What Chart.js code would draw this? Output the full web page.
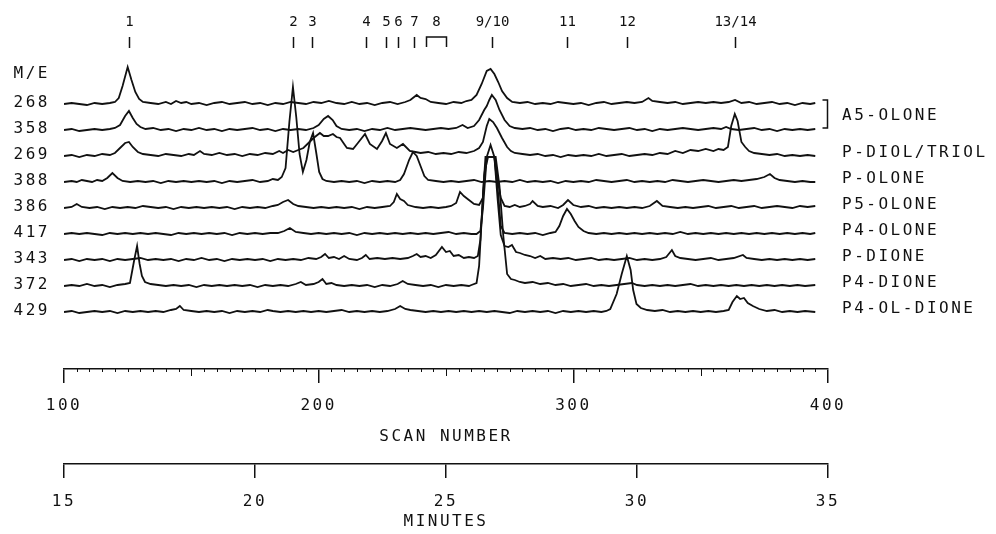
<!DOCTYPE html>
<html>
<head>
<meta charset="utf-8">
<script src="https://cdn.jsdelivr.net/npm/chart.js@4"></script>
<style>
    body { margin: 0; background: #fff; }
    canvas { display: block; }
</style>
</head>
<body>
<canvas id="chartScan" width="996" height="534"></canvas>
<script>
const mzLabels = ['268', '358', '269', '388', '386', '417', '343', '372', '429']
const compoundLabels = ['P-DIOL/TRIOL', 'P-OLONE', 'P5-OLONE', 'P4-OLONE', 'P-DIONE', 'P4-DIONE', 'P4-OL-DIONE']
const pairLabel = 'A5-OLONE'

const peakNumbers = ['1', '2', '3', '4', '5', '6', '7', '8', '9/10', '11', '12', '13/14']
const peakScans = [125.5, 190, 197.5, 218.6, 226.4, 231.3, 237.5, 246, 268, 297.6, 321, 363.4]
const peak8Range = [242, 250]

const scanTicks = [100, 200, 300, 400]
const minuteTicks = [15, 20, 25, 30, 35]

// [scan, height above the trace baseline]
const trace268 = [[100,0],[103,1],[106,0],[109,-1],[112,1],[115,0],[118,1],[120,2],[121.5,6],[123,18],[125,37],[126.5,24],[128,12],[129.5,5],[131,2],[134,1],[137,0],[140,2],[142,0],[144,3],[146,1],[148,2],[150,0],[153,1],[156,-1],[159,1],[162,2],[165,0],[168,1],[171,2],[174,0],[177,1],[180,-1],[183,1],[186,0],[189,2],[192,1],[195,0],[198,2],[201,1],[204,3],[207,1],[210,0],[213,2],[216,0],[219,1],[222,-1],[225,1],[228,2],[231,0],[234,2],[236,4],[238.5,9],[240,6],[242,5],[244,2],[247,1],[250,0],[253,2],[256,1],[258,3],[260,4],[262,9],[264,20],[266,33],[267.5,35],[269,30],[270.5,22],[272,13],[274,6],[276,2],[279,1],[282,2],[285,0],[288,1],[291,0],[294,2],[297,1],[300,0],[303,1],[306,-1],[309,1],[312,2],[315,0],[318,1],[321,2],[324,1],[327,2],[329.5,6],[331,3],[334,2],[337,1],[340,2],[343,0],[346,1],[349,2],[352,1],[355,2],[358,1],[361,2],[363.5,4],[366,1],[369,2],[372,0],[375,1],[378,2],[381,0],[384,1],[387,-1],[390,1],[393,0],[395,1]]

const trace358 = [[100,0],[103,1],[106,-1],[109,0],[112,1],[115,0],[118,1],[120,2],[122,5],[124,14],[125.5,19],[127,12],[128.5,6],[130,3],[132,1],[135,2],[138,0],[141,1],[144,-1],[147,1],[150,0],[153,2],[156,0],[159,1],[162,-1],[165,1],[168,0],[171,1],[174,2],[177,0],[180,1],[183,-1],[186,1],[189,0],[192,1],[195,0],[198,2],[200,5],[202,11],[203.7,14],[205.5,10],[207,4],[209,1],[212,0],[215,1],[218,-1],[221,1],[224,0],[227,2],[230,0],[233,1],[236,2],[239,1],[242,0],[245,1],[248,2],[251,1],[254,2],[256.5,5],[258.5,2],[261,4],[263,10],[265,20],[266,24],[267,30],[268,35],[269.5,30],[271,20],[273,10],[275,4],[277,2],[280,1],[283,2],[286,0],[289,1],[292,-1],[295,1],[298,2],[301,0],[304,1],[307,0],[310,2],[313,1],[316,0],[319,1],[322,2],[325,0],[328,1],[331,-1],[334,1],[337,0],[340,1],[343,2],[346,1],[349,0],[352,1],[355,2],[358,1],[360,3],[362,1],[365,0],[368,1],[371,2],[374,0],[377,1],[380,-1],[383,1],[386,0],[389,1],[392,0],[395,1]]

const trace269 = [[100,0],[103,1],[106,-1],[109,1],[112,0],[115,2],[118,1],[120,3],[122,8],[124,13],[125.5,14],[127,9],[129,4],[131,2],[134,1],[137,0],[140,2],[143,1],[146,0],[149,2],[151,1],[153.4,5],[155,2],[158,1],[161,3],[164,1],[167,2],[170,0],[173,2],[176,1],[179,3],[182,2],[184.5,5],[186,3],[188,6],[190,4],[192,6],[194,8],[196,13],[198,18],[200.5,23],[202,20],[203.7,20],[205.6,22],[207,19],[208.4,18],[210,12],[211.1,8],[213.5,7],[215.4,13],[218.2,22],[220.1,12],[222.9,7],[224.9,15],[226.4,23],[228,12],[230.7,8],[233.1,12],[235.8,5],[238,4],[240,3],[243,4],[246,2],[249,3],[252,2],[255,4],[258,3],[261,5],[263,8],[264.5,14],[266,30],[267,37],[268.5,34],[270,28],[272,18],[274,9],[275.5,5],[277,3],[280,2],[283,1],[286,2],[289,0],[292,1],[295,-1],[298,1],[301,0],[304,1],[307,0],[310,2],[313,0],[316,1],[319,2],[322,0],[325,1],[328,2],[331,1],[334,3],[337,2],[340,5],[343,3],[346,6],[349,5],[352,7],[355,5],[357,7],[359,6],[360.7,9],[362,30],[363.4,42],[364.5,35],[366,14],[367.5,9],[369,5],[371,3],[374,2],[377,1],[380,2],[383,0],[386,1],[389,0],[392,1],[395,0]]

const trace388 = [[100,0],[103,1],[105,0],[107,2],[109,1],[111,0],[113,2],[115,1],[117,4],[119,9],[121,4],[123,1],[126,0],[129,1],[132,0],[135,1],[138,-1],[141,1],[144,0],[147,1],[150,0],[153,1],[156,0],[159,1],[162,-1],[165,1],[168,0],[171,1],[174,2],[177,0],[180,1],[182,3],[184,2],[185.5,5],[187,14],[188.5,60],[189.9,95],[191.2,65],[192.5,28],[193.8,10],[195.2,22],[196.5,40],[197.8,49],[199,30],[200.2,10],[201.5,3],[203,1],[206,0],[209,1],[212,0],[215,1],[218,-1],[221,1],[224,0],[227,1],[230,0],[232,2],[233.5,8],[235.5,22],[237,30],[238.5,26],[240,16],[241.5,6],[243,2],[246,1],[249,0],[252,1],[255,0],[258,1],[261,2],[264,0],[267,1],[270,0],[273,1],[276,0],[279,2],[282,0],[285,1],[288,0],[291,1],[294,-1],[297,1],[300,0],[303,1],[306,0],[309,2],[312,1],[315,0],[318,1],[321,2],[324,0],[327,1],[330,0],[333,1],[336,0],[339,2],[342,1],[345,0],[348,1],[351,2],[354,1],[357,0],[360,1],[363,2],[366,1],[369,2],[372,3],[375,5],[377.2,8],[379,4],[381,2],[384,1],[387,0],[390,1],[393,0],[395,0]]

const trace386 = [[100,0],[103,1],[105,4],[107,1],[110,0],[113,1],[116,-1],[119,1],[122,0],[125,1],[128,0],[131,2],[134,1],[137,0],[140,1],[143,-1],[146,1],[149,0],[152,1],[155,0],[158,1],[161,0],[164,1],[167,-1],[170,1],[173,0],[176,1],[179,0],[182,2],[184,3],[186,6],[188,8],[190,4],[192,2],[195,1],[198,0],[201,1],[204,0],[207,1],[210,0],[213,1],[216,-1],[219,1],[222,0],[225,1],[228,2],[229.5,6],[230.7,14],[232,9],[233.5,7],[235,3],[238,1],[241,0],[244,1],[247,0],[250,1],[252,2],[254,5],[255.5,16],[257,12],[259,8],[261,4],[263,3],[264.5,10],[265.5,40],[266.5,51],[269,51],[270.5,25],[271.5,10],[273,2],[275,1],[277,3],[279,1],[281,2],[283,4],[284,7],[286,2],[288,1],[291,2],[294,0],[296,3],[297.9,8],[300,3],[303,1],[306,2],[309,0],[312,1],[315,0],[318,1],[321,0],[324,1],[327,0],[330,2],[332.8,7],[335,2],[338,1],[341,0],[344,1],[347,0],[350,1],[353,2],[356,0],[359,1],[362,2],[365,0],[368,1],[371,2],[374,0],[377,1],[380,2],[383,1],[386,0],[389,2],[392,1],[395,2]]

const trace417 = [[100,0],[103,1],[106,0],[109,1],[112,0],[115,-1],[118,1],[121,0],[124,1],[127,0],[130,1],[133,0],[136,1],[139,0],[142,-1],[145,1],[148,0],[151,1],[154,0],[157,1],[160,0],[163,1],[166,-1],[169,1],[172,0],[175,1],[178,0],[181,1],[184,1],[186.5,3],[188.7,6],[191,2],[194,1],[197,0],[200,1],[203,0],[206,1],[209,0],[212,1],[215,-1],[218,1],[221,0],[224,1],[227,0],[230,1],[233,0],[236,1],[239,0],[242,1],[245,0],[248,1],[251,2],[254,0],[257,1],[260,0],[262,0],[263.5,3],[264.5,25],[266,77],[269,77],[270.5,40],[271.5,8],[273,1],[276,0],[279,1],[282,0],[285,1],[288,-1],[291,1],[293,2],[294.5,8],[296,18],[297.5,25],[299,20],[300.5,13],[302,7],[304,3],[306,1],[309,0],[312,1],[315,0],[318,1],[321,0],[324,1],[327,0],[330,1],[333,0],[336,1],[339,0],[342,2],[345,0],[348,1],[351,0],[354,1],[357,0],[360,1],[363,0],[366,1],[369,0],[372,1],[375,0],[378,1],[381,0],[384,1],[387,0],[390,1],[393,0],[395,1]]

const trace343 = [[100,0],[103,1],[106,-1],[109,1],[112,0],[115,1],[118,-1],[121,1],[124,0],[127,1],[130,2],[133,0],[136,1],[139,0],[142,1],[145,-1],[148,1],[151,0],[154,2],[157,0],[160,1],[163,-1],[166,1],[169,0],[172,1],[175,0],[178,1],[181,-1],[184,1],[187,0],[190,1],[193,0],[196,2],[199,1],[201,3],[202.5,6],[204,2],[206,3],[208,1],[210,4],[212,1],[215,0],[217,2],[218.5,5],[220,1],[223,2],[226,1],[229,2],[232,1],[235,2],[237,4],[238.5,6],[240,3],[242,4],[244,2],[246,5],[248.4,13],[250,8],[251.5,9],[253,4],[255,5],[257,2],[259,3],[261,2],[262.5,4],[263.5,20],[265,85],[266,103],[267.5,115],[269,103],[270.3,60],[271.5,25],[273,14],[274.5,13],[275.9,15],[277.5,8],[279,7],[281,5],[283,4],[285,2],[287,4],[289,1],[292,2],[295,1],[298,2],[301,0],[304,1],[307,2],[310,0],[313,1],[316,0],[319,1],[322,2],[325,0],[328,1],[331,0],[334,1],[336.5,3],[338.7,10],[340,4],[342,2],[345,1],[348,0],[351,1],[354,2],[357,0],[360,1],[363,2],[366.6,5],[368,2],[371,1],[374,0],[377,1],[380,0],[383,1],[386,0],[389,1],[392,0],[395,1]]

const trace372 = [[100,0],[103,1],[106,0],[109,2],[112,0],[115,1],[118,-1],[121,1],[124,2],[125.9,3],[127.5,25],[128.7,40],[129.7,22],[130.6,10],[131.8,4],[134,2],[137,1],[140,0],[143,1],[146,0],[149,1],[152,-1],[155,1],[158,0],[161,1],[164,0],[167,1],[170,0],[173,1],[176,-1],[179,1],[182,0],[185,1],[188,0],[191,2],[193,4],[195,1],[198,2],[200,4],[201.5,7],[203,2],[205,3],[207,1],[210,0],[213,1],[216,0],[219,1],[222,-1],[225,1],[228,0],[231,2],[233,5],[235,2],[238,1],[241,0],[244,1],[247,-1],[250,1],[253,0],[256,1],[259,0],[260,1],[262,3],[263,20],[264.5,90],[265.5,129],[269.5,129],[271,100],[272.5,50],[274,12],[275.5,7],[277,6],[279,4],[281,3],[284,4],[287,2],[290,3],[293,1],[296,2],[299,0],[302,1],[305,2],[308,0],[311,1],[314,0],[317,1],[320,2],[323,3],[325,1],[328,0],[331,1],[334,0],[337,1],[340,0],[343,1],[346,2],[349,0],[352,1],[355,0],[358,1],[361,0],[364,1],[367,0],[370,1],[373,0],[376,1],[379,0],[382,1],[385,0],[388,1],[391,0],[395,1]]

const trace429 = [[100,0],[103,1],[106,-1],[109,0],[112,1],[115,0],[118,1],[121,-1],[124,1],[127,0],[130,1],[133,0],[136,1],[139,0],[142,2],[144,3],[145.5,6],[147,2],[150,1],[153,0],[156,1],[159,0],[162,1],[165,-1],[168,1],[171,0],[174,1],[177,0],[180,2],[182,1],[185,0],[188,1],[191,0],[194,1],[197,0],[200,1],[203,0],[206,1],[209,2],[212,0],[215,1],[218,0],[221,1],[224,0],[227,1],[230,3],[232,6],[234,3],[236,2],[239,1],[242,0],[245,1],[248,0],[251,1],[254,0],[257,1],[260,0],[263,1],[266,0],[269,1],[272,0],[275,-1],[278,1],[281,0],[284,1],[287,0],[290,1],[293,-1],[296,1],[299,0],[302,1],[305,0],[308,1],[311,0],[313,1],[314.5,3],[317,18],[319,38],[321,56],[322.5,42],[323.5,22],[324.8,8],[326.5,4],[329,2],[332,1],[335,2],[338,0],[341,1],[344,0],[347,1],[350,0],[353,1],[356,0],[359,1],[361,2],[362.5,10],[364.2,16],[365.5,13],[367,14],[368.5,9],[370.5,6],[373,3],[376,1],[379,2],[382,0],[385,1],[388,0],[391,1],[395,0]]

const traces = [trace268, trace358, trace269, trace388, trace386, trace417, trace343, trace372, trace429]

// the y scale is laid out so one unit is one pixel; the traces are stacked 26 units apart
const yMax = 329
const firstBase = 265
const spacing = 26
const baseOf = i => firstBase - spacing * i

const ink = '#111111'
const fontFamily = "'DejaVu Sans Mono', 'Liberation Mono', monospace"
const labelFont = { family: fontFamily, size: 16 }

const leftTickValues = [baseOf(0) + 30, ...mzLabels.map((m, i) => baseOf(i) + 1.5)]
const leftTickTexts = ['M/E', ...mzLabels]
const rightTickValues = [(baseOf(0) + baseOf(1)) / 2 + 1, ...compoundLabels.map((c, i) => baseOf(i + 2) + 3)]
const rightTickTexts = [pairLabel, ...compoundLabels]

const spacingPlugin = {
    id: 'spacing',
    beforeUpdate: chart => { chart.ctx.letterSpacing = '2.5px' },
    beforeDraw: chart => { chart.ctx.letterSpacing = '2.5px' }
}

const marksPlugin = {
    id: 'marks',
    afterDraw: chart => {
        const ctx = chart.ctx
        const xs = chart.scales.x
        const ys = chart.scales.y
        ctx.save()
        ctx.strokeStyle = ink
        ctx.fillStyle = ink
        ctx.lineWidth = 1.5

        // peak numbers along the top
        ctx.letterSpacing = '0px'
        ctx.font = `14px ${fontFamily}`
        ctx.textAlign = 'center'
        ctx.textBaseline = 'middle'
        peakNumbers.forEach((n, i) => {
            const px = Math.round(xs.getPixelForValue(peakScans[i])) + 0.5
            ctx.fillText(n, px, 22)
            if (n === '8') {
                const a = Math.round(xs.getPixelForValue(peak8Range[0])) + 0.5
                const b = Math.round(xs.getPixelForValue(peak8Range[1])) + 0.5
                ctx.beginPath()
                ctx.moveTo(a, 47)
                ctx.lineTo(a, 37)
                ctx.lineTo(b, 37)
                ctx.lineTo(b, 47)
                ctx.stroke()
            } else {
                ctx.beginPath()
                ctx.moveTo(px, 37)
                ctx.lineTo(px, 48)
                ctx.stroke()
            }
        })

        // bracket joining the first two traces
        const top = ys.getPixelForValue(baseOf(0) + 4)
        const bottom = ys.getPixelForValue(baseOf(1) + 2)
        const bx = chart.chartArea.right - 0.5
        ctx.beginPath()
        ctx.moveTo(bx - 5, top)
        ctx.lineTo(bx, top)
        ctx.lineTo(bx, bottom)
        ctx.lineTo(bx - 5, bottom)
        ctx.stroke()

        // minor ticks of the scan axis
        ctx.lineWidth = 1
        for (let s = 105; s < 400; s += 5) {
            if (s % 100 === 0) continue
            const px = Math.round(xs.getPixelForValue(s)) + 0.5
            const len = s % 50 === 0 ? 7 : 3
            ctx.beginPath()
            ctx.moveTo(px, xs.top)
            ctx.lineTo(px, xs.top + len)
            ctx.stroke()
        }
        ctx.restore()
    }
}

const axisStyle = {
    grid: { drawOnChartArea: false, drawTicks: true, tickLength: 14, color: ink, lineWidth: 1.5 },
    border: { display: true, color: ink, width: 1.5 }
}

const chartScan = new Chart(document.getElementById('chartScan'), {
    type: 'line',
    data: {
        datasets: traces.map((t, i) => ({
            label: mzLabels[i],
            data: t.map(p => ({ x: p[0], y: baseOf(i) + p[1] })),
            borderColor: ink,
            borderWidth: 1.8,
            pointRadius: 0,
            tension: 0,
            fill: false
        }))
    },
    options: {
        responsive: false,
        animation: false,
        layout: { padding: { top: 40 } },
        plugins: { legend: { display: false }, tooltip: { enabled: false } },
        scales: {
            x: {
                type: 'linear', position: 'bottom', min: 100, max: 400, weight: 0,
                afterBuildTicks: s => { s.ticks = scanTicks.map(v => ({ value: v })) },
                afterFit: s => { s.height = 95 },
                ...axisStyle,
                ticks: { padding: 13, font: labelFont, color: ink, maxRotation: 0, autoSkip: false },
                title: { display: true, text: 'SCAN NUMBER', font: labelFont, color: ink, padding: { top: 0, bottom: 18 } }
            },
            x2: {
                type: 'linear', position: 'bottom', min: 15, max: 35, weight: 1,
                afterBuildTicks: s => { s.ticks = minuteTicks.map(v => ({ value: v })) },
                afterFit: s => { s.height = 70 },
                ...axisStyle,
                ticks: { padding: 14, font: labelFont, color: ink, maxRotation: 0, autoSkip: false },
                title: { display: true, text: 'MINUTES', font: labelFont, color: ink, padding: { top: 0, bottom: 3 } }
            },
            y: {
                type: 'linear', position: 'left', min: 0, max: yMax,
                afterBuildTicks: s => { s.ticks = leftTickValues.map(v => ({ value: v })) },
                afterFit: s => { s.width = 64 },
                grid: { display: false, drawTicks: false },
                border: { display: false },
                ticks: { padding: 14, font: labelFont, color: ink, autoSkip: false, callback: (v, i) => leftTickTexts[i] }
            },
            y2: {
                type: 'linear', position: 'right', min: 0, max: yMax,
                afterBuildTicks: s => { s.ticks = rightTickValues.map(v => ({ value: v })) },
                afterFit: s => { s.width = 168 },
                grid: { display: false, drawTicks: false },
                border: { display: false },
                ticks: { padding: 14, font: labelFont, color: ink, autoSkip: false, callback: (v, i) => rightTickTexts[i] }
            }
        }
    },
    plugins: [spacingPlugin, marksPlugin]
});
</script>
</body>
</html>
